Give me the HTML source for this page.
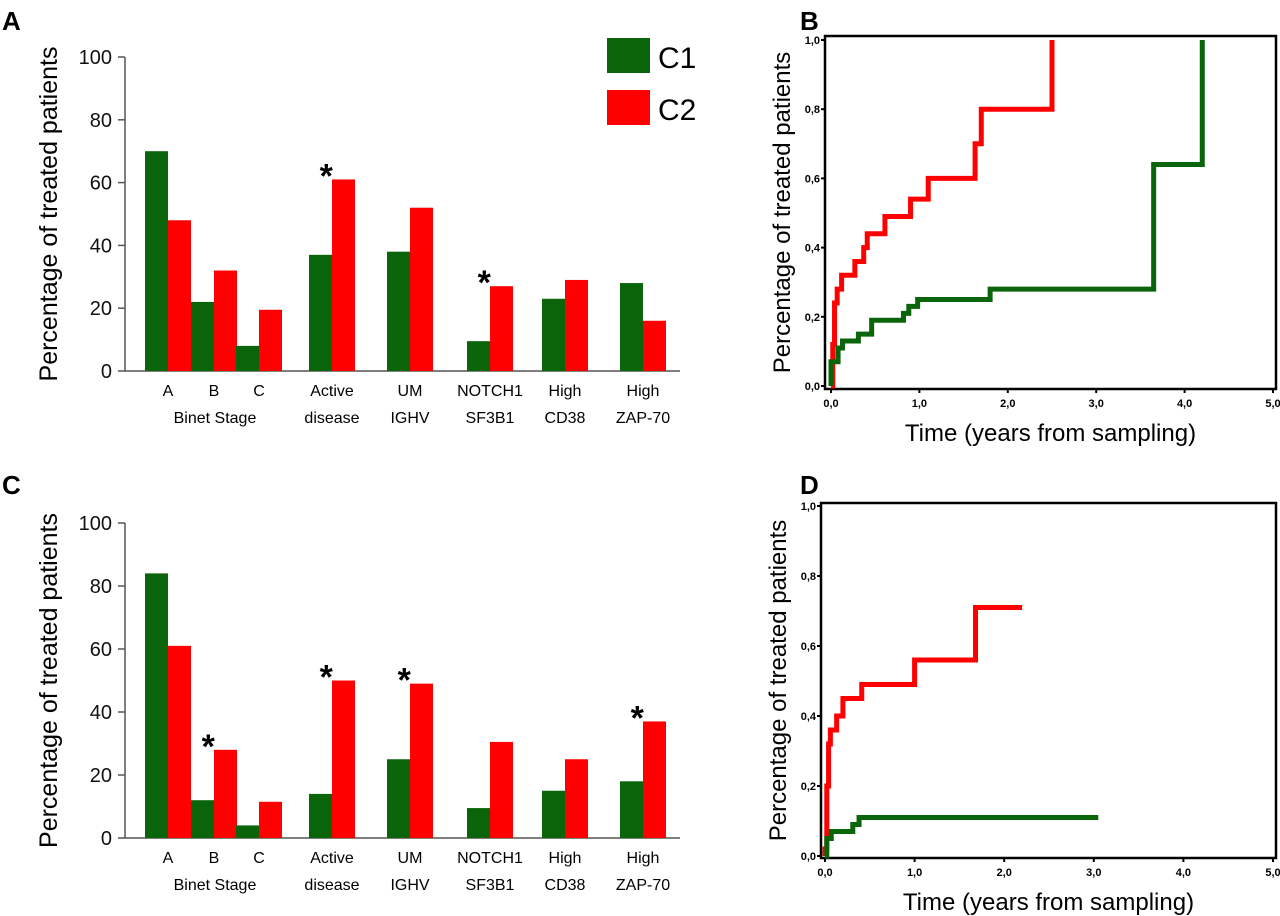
<!DOCTYPE html>
<html><head><meta charset="utf-8"><style>
body{margin:0;background:#fff;}
svg{display:block;font-family:"Liberation Sans","DejaVu Sans",sans-serif;}
</style></head><body>
<svg id="fig" width="1280" height="916" viewBox="0 0 1280 916"></svg>
<script>
const categories=["A|Binet Stage","B|","C|","Active|disease","UM|IGHV","NOTCH1|SF3B1","High|CD38","High|ZAP-70"];
const seriesA_C1=[70,22,8,37,38,9.5,23,28];
const seriesA_C2=[48,32,19.5,61,52,27,29,16];
const seriesC_C1=[84,12,4,14,25,9.5,15,18];
const seriesC_C2=[61,28,11.5,50,49,30.5,25,37];
const starsA=[3,5];
const starsC=[1,3,4,7];
const barTicks=[0,20,40,60,80,100];
const kmTicksY=["0,0","0,2","0,4","0,6","0,8","1,0"];
const kmTicksX=["0,0","1,0","2,0","3,0","4,0","5,0"];
const B_red_t=[0,0.02,0.04,0.07,0.12,0.27,0.37,0.41,0.61,0.90,1.10,1.63,1.70,2.50];
const B_red_v=[0,0.12,0.24,0.28,0.32,0.36,0.40,0.44,0.49,0.54,0.60,0.70,0.80,1.0];
const B_green_t=[0,0.03,0.08,0.13,0.31,0.46,0.82,0.88,0.98,1.80,3.65,4.20];
const B_green_v=[0.07,0.07,0.11,0.13,0.15,0.19,0.21,0.23,0.25,0.28,0.64,1.0];
const D_red_t=[0,0.02,0.04,0.06,0.13,0.20,0.41,1.0,1.68];
const D_red_v=[0.02,0.2,0.32,0.36,0.40,0.45,0.49,0.56,0.71];
const D_red_end=2.2;
const D_green_t=[0,0.02,0.07,0.31,0.38];
const D_green_v=[0,0.05,0.07,0.09,0.11];
const D_green_end=3.05;
const B_red_end=2.5, B_green_end=4.2;

const svg=document.getElementById('fig');
const NS="http://www.w3.org/2000/svg";
function el(tag,attrs,parent){const e=document.createElementNS(NS,tag);for(const k in attrs)e.setAttribute(k,attrs[k]);(parent||svg).appendChild(e);return e;}
function txt(s,attrs,parent){const e=el('text',attrs,parent);e.textContent=s;return e;}

[["A",2,30],["B",800,30],["C",2,494],["D",800,494]].forEach(p=>{
  const t=txt(p[0],{x:p[1],y:p[2],'font-size':26,'font-weight':'bold'});
  
  
});

const groupLeft=[145,191,236,309,387,467,542,620];
function barChart(y0,y100,c1,c2,stars,name,legend){
  const g=el('g',{});
  
  
  const ys=v=>y0+(y100-y0)*v/100;
  const bw=23;
  el('line',{x1:125,y1:ys(100),x2:125,y2:y0,stroke:'#555','stroke-width':1.5},g);
  el('line',{x1:125,y1:y0,x2:680,y2:y0,stroke:'#555','stroke-width':1.5},g);
  barTicks.forEach(t=>{
    el('line',{x1:118,y1:ys(t),x2:125,y2:ys(t),stroke:'#555','stroke-width':1.5},g);
    const lb=txt(String(t),{x:112,y:ys(t)+7,'font-size':20,'text-anchor':'end',fill:'#111'},g);
    
    
  });
  const yt=txt('Percentage of treated patients',{x:0,y:0,'font-size':25,'text-anchor':'middle',transform:`translate(57,${(ys(100)+y0)/2}) rotate(-90)`},g);
  
  
  categories.forEach((c,i)=>{
    const x=groupLeft[i];
    const r1=el('rect',{x:x,y:ys(c1[i]),width:bw,height:y0-ys(c1[i]),fill:'#0a640a'},g);
    
    
    const r2=el('rect',{x:x+bw,y:ys(c2[i]),width:bw,height:y0-ys(c2[i]),fill:'#ff0000'},g);
    
    
    const parts=c.split('|');
    const cx=x+bw;
    const l1=txt(parts[0],{x:cx,y:y0+25,'font-size':16,'text-anchor':'middle'},g);
    
    
    if(parts[1]){
      const l2=txt(parts[1],{x:i===0?cx+47:cx,y:y0+52,'font-size':16,'text-anchor':'middle'},g);
      
      
    }
  });
  stars.forEach(i=>{
    const x=groupLeft[i]+bw*0.75;
    const top=Math.min(ys(c1[i]),ys(c2[i]));
    const s=txt('*',{x:x,y:top+8,'font-size':34,'text-anchor':'middle','font-weight':'bold'},g);
    
    
  });
  if(legend){
    const r=el('rect',{x:607,y:38,width:43,height:35,fill:'#0a640a'},g);
    
    
    const t=txt('C1',{x:658,y:68,'font-size':30},g);
    
    
    const r2=el('rect',{x:607,y:90,width:43,height:35,fill:'#ff0000'},g);
    
    
    const t2=txt('C2',{x:658,y:120,'font-size':30},g);
    
    
  }
}
barChart(371,57,seriesA_C1,seriesA_C2,starsA,'panel-a-bar-chart',true);
barChart(838,523,seriesC_C1,seriesC_C2,starsC,'panel-c-bar-chart',false);

function kmChart(box,x0,x5,y0,y1,curves,name){
  const g=el('g',{});
  
  
  const xs=t=>x0+(x5-x0)*t/5;
  const ys=v=>y0+(y1-y0)*v;
  el('rect',{x:box[0],y:box[1],width:box[2]-box[0],height:box[3]-box[1],fill:'none',stroke:'#000','stroke-width':2.5},g);
  kmTicksY.forEach((t,i)=>{
    const y=ys(i*0.2);
    el('line',{x1:box[0]-4,y1:y,x2:box[0],y2:y,stroke:'#000','stroke-width':2},g);
    const lb=txt(t,{x:box[0]-5,y:y+4,'font-size':11,'font-weight':'bold','text-anchor':'end'},g);
    
    
  });
  kmTicksX.forEach((t,i)=>{
    const x=xs(i);
    el('line',{x1:x,y1:box[3],x2:x,y2:box[3]+4,stroke:'#000','stroke-width':2},g);
    const lb=txt(t,{x:x,y:box[3]+18,'font-size':11,'font-weight':'bold','text-anchor':'middle'},g);
    
    
  });
  const xt=txt('Time (years from sampling)',{x:(box[0]+box[2])/2,y:box[3]+52,'font-size':24,'text-anchor':'middle'},g);
  
  
  const yt=txt('Percentage of treated patients',{x:0,y:0,'font-size':24,'text-anchor':'middle',transform:`translate(${box[0]-35},${(box[1]+box[3])/2}) rotate(-90)`},g);
  
  
  curves.forEach(c=>{
    let d=`M${xs(c.t[0])},${ys(c.start)}`;
    for(let i=0;i<c.t.length;i++){
      d+=` L${xs(c.t[i])},${ys(i?c.v[i-1]:c.start)} L${xs(c.t[i])},${ys(c.v[i])}`;
    }
    if(c.end>c.t[c.t.length-1]) d+=` L${xs(c.end)},${ys(c.v[c.v.length-1])}`;
    const p=el('path',{d:d,fill:'none',stroke:c.color,'stroke-width':5,'stroke-linejoin':'miter'},g);
    
    
  });
}
kmChart([825,36,1276,389],831,1273,386,40,[
  {t:B_red_t,v:B_red_v,start:0,end:B_red_end,color:'#ff0000',name:'km-curve-c2'},
  {t:B_green_t,v:B_green_v,start:0,end:B_green_end,color:'#0a640a',name:'km-curve-c1'}
],'panel-b-km-chart');
kmChart([821,503,1276,858],825,1273,856,506,[
  {t:D_red_t,v:D_red_v,start:0,end:D_red_end,color:'#ff0000',name:'km-curve-c2'},
  {t:D_green_t,v:D_green_v,start:0,end:D_green_end,color:'#0a640a',name:'km-curve-c1'}
],'panel-d-km-chart');
</script>
</body></html>
